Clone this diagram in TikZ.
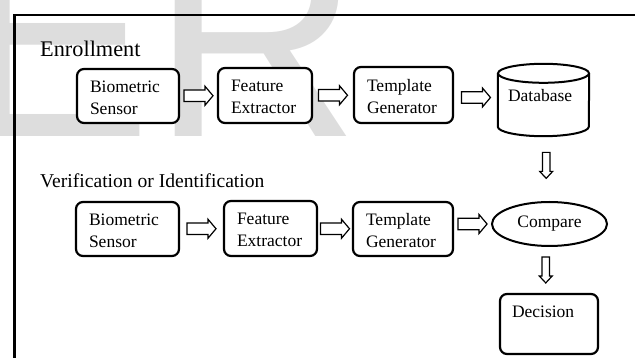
\documentclass[tikz,border=0pt]{standalone}
\usepackage{fontspec}
\setmainfont{Liberation Serif}
\newfontfamily\wmfont{Liberation Sans}
\usetikzlibrary{shapes.geometric,calc}
\definecolor{wm}{RGB}{221,221,221}
\tikzset{
  box/.style={draw, fill=white, line width=2.2pt, rounded corners=7pt, align=left,
    font=\fontsize{17.5}{22}\selectfont, inner xsep=13pt, inner ysep=0pt,
    text height=15pt, text depth=22pt},
  header/.style={anchor=base west, inner sep=0pt},
  arrline/.style={draw, fill=white, line width=1.2pt, line join=miter},
  harr/.pic={\path[arrline] (-14.5,-5.75) -- (6.5,-5.75) -- (6.5,-9.5) -- (14.5,0) -- (6.5,9.5) -- (6.5,5.75) -- (-14.5,5.75) -- cycle;},
  varr/.pic={\path[arrline] (-3.75,-13) -- (-3.75,6) -- (-6.5,6) -- (0,13) -- (6.5,6) -- (3.75,6) -- (3.75,-13) -- cycle;}
}
\begin{document}
\begin{tikzpicture}[x=1pt,y=-1pt]
\useasboundingbox (0,0) rectangle (635,358);
\begin{scope}
  \clip (0,0) rectangle (635,358);
  \node[anchor=base west, inner sep=0pt, text=wm, font=\wmfont\fontsize{289}{289}\selectfont] (wmark) at (-41,137) {ER};
  \draw[line width=2.3pt] (14.5,370) -- (14.5,14.7) -- (650,14.7);
\end{scope}

% headers
\node[header, font=\fontsize{22.3}{25}\selectfont] (enr) at (40,57) {Enrollment};
\node[header, font=\fontsize{19.6}{22}\selectfont] (ver) at (40,188) {Verification or Identification};

% enrollment row
\node[box, text width=76pt, minimum height=54pt] (b1) at (128,96) {Biometric\\Sensor};
\node[box, text width=68pt, minimum height=55pt] (f1) at (265,95.5) {Feature\\Extractor};
\node[box, text width=73pt, minimum height=56pt] (t1) at (403.5,95) {Template\\Generator};
\node[inner xsep=10pt, inner ysep=0pt, text width=71pt, align=left, minimum height=72pt,
      text height=12pt, text depth=8pt, font=\fontsize{17.5}{22}\selectfont] (db) at (543.5,100) {};
\path[draw, fill=white, line width=2pt] ($(db.north west)+(0,9.5)$) -- ($(db.south west)+(0,-9.5)$)
   arc[start angle=180, end angle=0, x radius=45.5, y radius=9.5] -- ($(db.north east)+(0,9.5)$);
\draw[fill=white, line width=2pt] ($(db.north)+(0,9.5)$) ellipse [x radius=45.5, y radius=9.5];
\node[inner xsep=10pt, inner ysep=0pt, text width=71pt, align=left, minimum height=72pt,
      text height=12pt, text depth=8pt, font=\fontsize{17.5}{22}\selectfont] (dbt) at (db) {Database};

% verification row
\node[box, text width=77pt, minimum height=54pt] (b2) at (127.5,229) {Biometric\\Sensor};
\node[box, text width=67pt, minimum height=55pt] (f2) at (270.5,228.5) {Feature\\Extractor};
\node[box, text width=74pt, minimum height=54pt] (t2) at (403,229) {Template\\Generator};
\node[ellipse, draw, fill=white, line width=2pt, minimum width=115pt, minimum height=44pt, inner sep=0pt,
      font=\fontsize{17.5}{22}\selectfont] (cmp) at (549.5,224) {Compare};
\node[box, inner xsep=12pt, text width=74pt, minimum height=60pt, text height=12pt, text depth=24pt] (dec) at (549,324) {Decision};

% block arrows
\pic at ($(b1.east)!0.5!(f1.west)$) {harr};
\pic at ($(f1.east)!0.5!(t1.west)$) {harr};
\pic at ($(t1.east)!0.5!(db.west)$) {harr};
\pic at ($(b2.east)!0.5!(f2.west)$) {harr};
\pic at ($(f2.east)!0.5!(t2.west)$) {harr};
\coordinate (m6) at ($(t2.east)!0.5!(cmp.west)$);
\pic at (m6 |- cmp.west) {harr};
\pic at ($(db.south)!0.45!(cmp.north)$) {varr};
\pic at ($(cmp.south)!0.5!(dec.north)+(-3.5,0)$) {varr};
\end{tikzpicture}
\end{document}
